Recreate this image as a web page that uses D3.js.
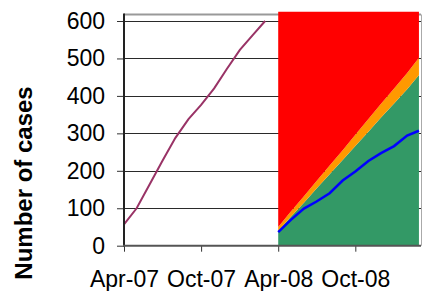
<!DOCTYPE html>
<html>
<head>
<meta charset="utf-8">
<script src="https://cdn.jsdelivr.net/npm/d3@7"></script>
<style>
  body { margin: 0; background: #fff; }
  svg text { font-family: "Liberation Sans", Arial, sans-serif; }
</style>
</head>
<body>
<div id="chart"></div>
<script>
// observed cases, Apr-07 .. Mar-08
var pastMonths = ["2007-04", "2007-05", "2007-06", "2007-07", "2007-08", "2007-09",
                  "2007-10", "2007-11", "2007-12", "2008-01", "2008-02", "2008-03"];
var pastCases = [57, 100, 164, 226, 288, 338, 376, 420, 472, 523, 563, 600];

// projection, Apr-08 .. Mar-09
var projMonths = ["2008-04", "2008-05", "2008-06", "2008-07", "2008-08", "2008-09",
                  "2008-10", "2008-11", "2008-12", "2009-01", "2009-02", "2009-03"];
var greenBand = [39, 77, 115, 153, 191, 229, 266, 304, 342, 380, 418, 456];
var orangeBand = [11, 14, 17, 20, 23, 26, 30, 34, 37, 40, 43, 46];
var redBand = [575, 534, 493, 452, 411, 370, 329, 287, 246, 205, 164, 123];
var blueCases = [36, 69, 99, 118, 140, 174, 198, 226, 247, 266, 294, 307];

var yTicks = [0, 100, 200, 300, 400, 500, 600];
var xTicks = ["2007-04", "2007-10", "2008-04", "2008-10"];
var xTickLabels = ["Apr-07", "Oct-07", "Apr-08", "Oct-08"];

var width = 422, height = 291;
var parse = d3.timeParse("%Y-%m");

var x = d3.scaleTime()
    .domain([parse("2007-04"), parse("2009-04")])
    .range([124, 432]);
var y = d3.scaleLinear()
    .domain([0, 600])
    .range([245.7, 21]);

var svg = d3.select("#chart").append("svg")
    .attr("width", width)
    .attr("height", height);

var plotRight = 421, plotTop = 14.5;

// gridlines
svg.append("g").selectAll("line")
    .data(yTicks.slice(1))
    .enter().append("line")
    .attr("x1", 124).attr("x2", plotRight)
    .attr("y1", function (d) { return Math.round(y(d)) + 0.5; })
    .attr("y2", function (d) { return Math.round(y(d)) + 0.5; })
    .attr("stroke", "#2a2a2a")
    .attr("stroke-width", 1);

// top border
svg.append("line")
    .attr("x1", 124).attr("x2", plotRight)
    .attr("y1", plotTop).attr("y2", plotTop)
    .attr("stroke", "#999").attr("stroke-width", 2);

// stacked projection areas
var rows = projMonths.map(function (m, i) {
    return { date: parse(m), green: greenBand[i], orange: orangeBand[i], red: redBand[i] };
});
var stack = d3.stack().keys(["green", "orange", "red"]);
var layers = stack(rows);
var colors = { green: "#339966", orange: "#ff9900", red: "#ff0000" };

var area = d3.area()
    .x(function (d) { return x(d.data.date); })
    .y0(function (d) { return y(d[0]); })
    .y1(function (d) { return y(d[1]); });

svg.append("g").selectAll("path")
    .data(layers)
    .enter().append("path")
    .attr("d", area)
    .attr("fill", function (d) { return colors[d.key]; });

// right border
svg.append("line")
    .attr("x1", plotRight + 0.5).attr("x2", plotRight + 0.5)
    .attr("y1", plotTop).attr("y2", y(0))
    .attr("stroke", "#aaa").attr("stroke-width", 1);

// lines
var line = d3.line()
    .x(function (d) { return x(d[0]); })
    .y(function (d) { return y(d[1]); });

svg.append("path")
    .datum(pastMonths.map(function (m, i) { return [parse(m), pastCases[i]]; }))
    .attr("d", line)
    .attr("fill", "none")
    .attr("stroke", "#993366")
    .attr("stroke-width", 2);

svg.append("path")
    .datum(projMonths.map(function (m, i) { return [parse(m), blueCases[i]]; }))
    .attr("d", line)
    .attr("fill", "none")
    .attr("stroke", "#0000ff")
    .attr("stroke-width", 2.5);

// y axis
var yAxis = svg.append("g")
    .attr("transform", "translate(124,0)")
    .call(d3.axisLeft(y).tickValues(yTicks).tickSize(7).tickPadding(12));
yAxis.select(".domain").remove();
yAxis.selectAll("line").attr("stroke", "#333");
yAxis.selectAll("text")
    .attr("font-size", "23px")
    .attr("fill", "#000");
svg.append("line")
    .attr("x1", 124).attr("x2", 124)
    .attr("y1", plotTop - 1).attr("y2", y(0) + 1)
    .attr("stroke", "#222").attr("stroke-width", 2);

// x axis
var xAxis = svg.append("g")
    .attr("transform", "translate(0," + y(0) + ")")
    .call(d3.axisBottom(x)
        .tickValues(xTicks.map(parse))
        .tickFormat(function (d, i) { return xTickLabels[i]; })
        .tickSize(6).tickPadding(19));
xAxis.select(".domain").remove();
xAxis.selectAll("line").attr("stroke", "#333");
xAxis.selectAll("text")
    .attr("font-size", "23px")
    .attr("fill", "#000");
svg.append("line")
    .attr("x1", 123).attr("x2", plotRight)
    .attr("y1", y(0)).attr("y2", y(0))
    .attr("stroke", "#555").attr("stroke-width", 2);

// y title
svg.append("text")
    .attr("transform", "translate(32,183) rotate(-90)")
    .attr("text-anchor", "middle")
    .attr("font-size", "24px")
    .attr("font-weight", "bold")
    .text("Number of cases");
</script>
</body>
</html>
